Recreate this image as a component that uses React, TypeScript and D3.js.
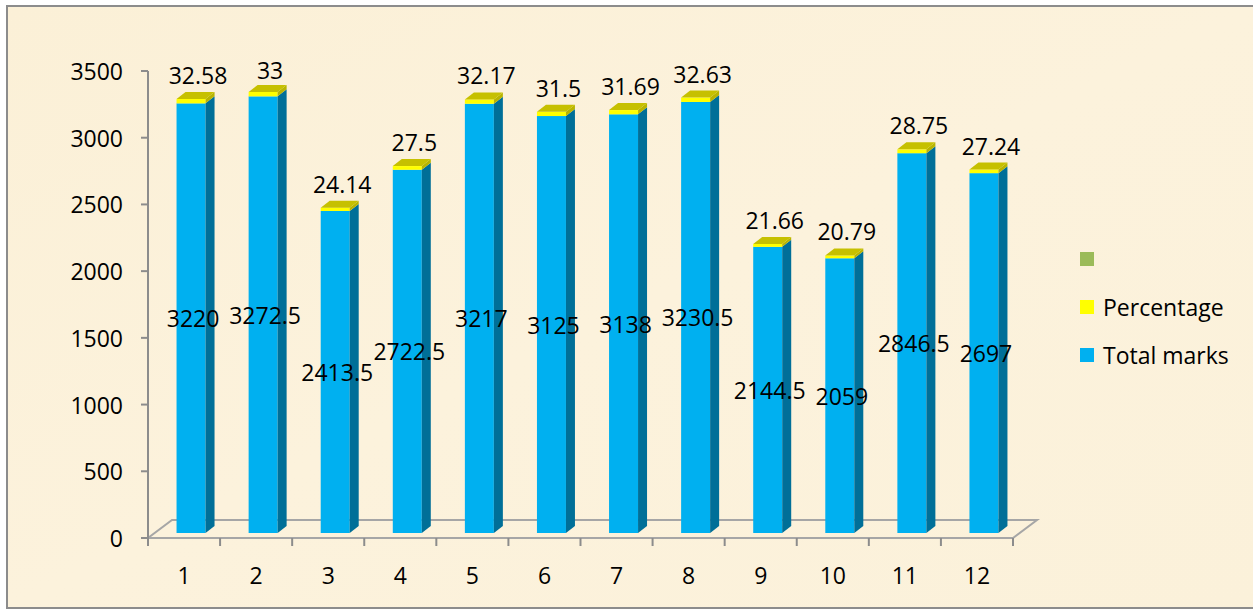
import React from "react";
import * as d3 from "d3";

const categories = ["1", "2", "3", "4", "5", "6", "7", "8", "9", "10", "11", "12"];
const totalMarks = [3220, 3272.5, 2413.5, 2722.5, 3217, 3125, 3138, 3230.5, 2144.5, 2059, 2846.5, 2697];
const percentage = [32.58, 33, 24.14, 27.5, 32.17, 31.5, 31.69, 32.63, 21.66, 20.79, 28.75, 27.24];
const yTicks = [0, 500, 1000, 1500, 2000, 2500, 3000, 3500];
const legendItems = [
  { name: "", color: "#9bbb59" },
  { name: "Percentage", color: "#ffff00" },
  { name: "Total marks", color: "#00b0f0" },
];

const W = 1253;
const H = 610;
const X0 = 148;
const X1 = 1013;
const Y0 = 538;
const YTOP = 71;
const DX = 24;
const DY = -18;
const FONT = "'Open Sans', 'Noto Sans', sans-serif";

export default function App() {
  const x = d3.scaleBand<string>().domain(categories).range([X0, X1]).paddingInner(0).paddingOuter(0);
  const y = d3.scaleLinear().domain([0, 3500]).range([Y0, YTOP]);
  const bw = 29;
  const offX = 7;
  const offY = -5;
  const depthX = 9;
  const depthY = -7;

  const box = (xl: number, yb: number, yt: number, front: string, side: string, top: string | null, key: string) => {
    const xr = xl + bw;
    return (
      <g key={key}>
        <rect x={xl} y={yt} width={bw} height={yb - yt} fill={front} />
        <path d={`M${xr},${yb}L${xr + depthX},${yb + depthY}L${xr + depthX},${yt + depthY}L${xr},${yt}Z`} fill={side} />
        {top && (
          <path d={`M${xl},${yt}L${xr},${yt}L${xr + depthX},${yt + depthY}L${xl + depthX},${yt + depthY}Z`} fill={top} />
        )}
      </g>
    );
  };

  return (
    <svg width={W} height={H} style={{ position: "absolute", left: 0, top: 0 }} fontFamily={FONT}>
      <defs>
        <linearGradient id="bg" x1="0" y1="0" x2="1" y2="1">
          <stop offset="0" stopColor="#fbf0d7" />
          <stop offset="0.5" stopColor="#fcf2dc" />
          <stop offset="1" stopColor="#fbf1da" />
        </linearGradient>
      </defs>
      <rect x={0} y={0} width={W} height={H} fill="#ffffff" />
      <rect x={7} y={6} width={W} height={602} fill="url(#bg)" stroke="#8c8c8c" strokeWidth={2} />

      {/* floor */}
      <path
        d={`M${X0},${Y0}L${X1},${Y0}L${X1 + DX},${Y0 + DY}L${X0 + DX},${Y0 + DY}Z`}
        fill="none"
        stroke="#a6a6a6"
        strokeWidth={2}
      />
      {/* y axis */}
      <line x1={X0} x2={X0} y1={YTOP} y2={Y0} stroke="#8c8c8c" strokeWidth={2} />
      {yTicks.map((t) => (
        <g key={t}>
          <line x1={X0 - 7} x2={X0} y1={y(t)} y2={y(t)} stroke="#8c8c8c" strokeWidth={2} />
          <text x={123} y={y(t)} textAnchor="end" dominantBaseline="central" fontSize={23} fill="#000">
            {t}
          </text>
        </g>
      ))}
      {/* x ticks */}
      {categories.map((c) => (
        <line key={"xt" + c} x1={x(c)!} x2={x(c)!} y1={Y0} y2={Y0 + 8} stroke="#8c8c8c" strokeWidth={2} />
      ))}
      <line x1={X1} x2={X1} y1={Y0} y2={Y0 + 8} stroke="#8c8c8c" strokeWidth={2} />
      {categories.map((c) => (
        <text key={"xl" + c} x={x(c)! + x.bandwidth() / 2} y={575} textAnchor="middle" dominantBaseline="central" fontSize={23} fill="#000">
          {c}
        </text>
      ))}

      {/* bars */}
      {categories.map((c, i) => {
        const xl = x(c)! + (x.bandwidth() - bw) / 2 + offX;
        const yb = y(0) + offY;
        const yt1 = y(totalMarks[i]) + offY;
        const yt2 = y(totalMarks[i] + percentage[i]) + offY;
        return (
          <g key={"bar" + c}>
            {box(xl, yb, yt1, "#00b0f0", "#006f98", null, "b")}
            {box(xl, yt1, yt2, "#ffff00", "#b8b400", "#c6c000", "p")}
          </g>
        );
      })}

      {/* labels */}
      {categories.map((c, i) => {
        const cx = x(c)! + x.bandwidth() / 2 + offX;
        const yb = y(0) + offY;
        const yt1 = y(totalMarks[i]) + offY;
        const yt2 = y(totalMarks[i] + percentage[i]) + offY;
        return (
          <g key={"lab" + c}>
            <text x={cx + 2} y={(yb + yt1) / 2} textAnchor="middle" dominantBaseline="central" fontSize={23} fill="#000">
              {totalMarks[i]}
            </text>
            <text x={cx + 7} y={Math.max(70, yt2 - 24)} textAnchor="middle" dominantBaseline="central" fontSize={23} fill="#000">
              {percentage[i]}
            </text>
          </g>
        );
      })}

      {/* legend */}
      {legendItems.map((l, i) => (
        <g key={"lg" + i} transform={`translate(1080, ${259 + i * 48})`}>
          <rect x={0} y={-7} width={14} height={14} fill={l.color} />
          <text x={23} y={0} dominantBaseline="central" fontSize={23} fill="#000">
            {l.name}
          </text>
        </g>
      ))}
    </svg>
  );
}
